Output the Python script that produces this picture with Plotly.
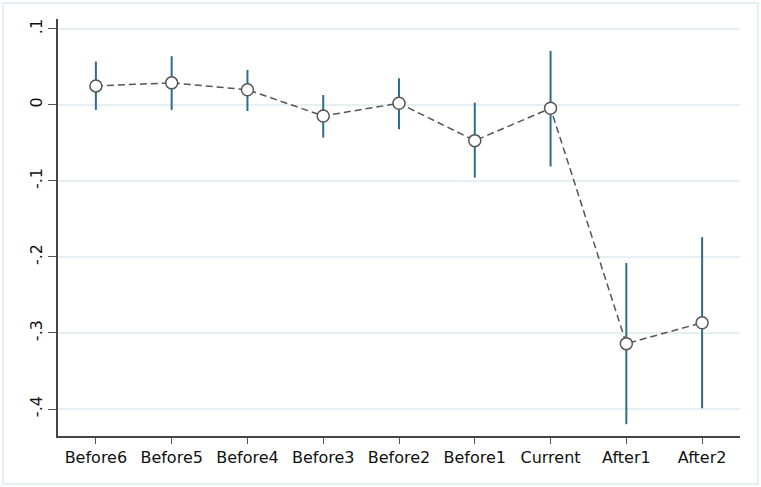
import plotly.graph_objects as go

categories = ["Before6", "Before5", "Before4", "Before3", "Before2", "Before1", "Current", "After1", "After2"]
estimate = [0.025, 0.029, 0.020, -0.0145, 0.0022, -0.047, -0.0044, -0.314, -0.2865]
ci_upper = [0.057, 0.064, 0.046, 0.013, 0.035, 0.003, 0.071, -0.208, -0.174]
ci_lower = [-0.0066, -0.0066, -0.008, -0.043, -0.032, -0.0956, -0.081, -0.420, -0.399]
ytick_vals = [0.1, 0, -0.1, -0.2, -0.3, -0.4]
ytick_text = [".1", "0", "-.1", "-.2", "-.3", "-.4"]

xpos = list(range(len(categories)))
err_plus = [u - e for u, e in zip(ci_upper, estimate)]
err_minus = [e - l for e, l in zip(estimate, ci_lower)]

CI_COLOR = "#2b6f8c"
FONT = "DejaVu Sans, Liberation Sans, Arial, sans-serif"

fig = go.Figure()

# zero reference line
fig.add_hline(y=0, line=dict(color="#6e9fb2", width=1.5), layer="below")

# confidence intervals
fig.add_trace(go.Scatter(
    x=xpos, y=estimate, mode="markers",
    marker=dict(size=0.1, color="rgba(0,0,0,0)"),
    error_y=dict(type="data", symmetric=False, array=err_plus, arrayminus=err_minus,
                 width=0, thickness=2, color=CI_COLOR),
    showlegend=False, hoverinfo="skip",
))

# point estimates connected by dashed line
fig.add_trace(go.Scatter(
    x=xpos, y=estimate, mode="lines+markers",
    line=dict(color="#555555", width=1.5, dash="7px,4px"),
    marker=dict(size=12, color="white", line=dict(color="#555555", width=1.5)),
    showlegend=False,
))

fig.update_layout(
    width=761, height=487,
    margin=dict(l=58, r=21, t=19, b=51),
    paper_bgcolor="white", plot_bgcolor="white",
    font=dict(family=FONT, size=16, color="#111111"),
    xaxis=dict(
        range=[-0.5, 8.5], tickmode="array", tickvals=xpos, ticktext=categories,
        showgrid=False, zeroline=False, showline=True, linecolor="#444444", linewidth=1.5,
        ticks="outside", ticklen=6, tickcolor="#555555", tickwidth=1,
    ),
    yaxis=dict(
        range=[-0.4355, 0.113], tickmode="array", tickvals=ytick_vals, ticktext=ytick_text,
        tickangle=-90, showgrid=True, gridcolor="#e6eff2", gridwidth=1.5, zeroline=False,
        showline=True, linecolor="#444444", linewidth=1.5,
        ticks="outside", ticklen=8, tickcolor="#555555", tickwidth=1,
    ),
    shapes=[dict(type="rect", xref="paper", yref="paper",
                 x0=-0.0806, x1=1.0264, y0=-0.1151, y1=1.0384,
                 line=dict(color="#dceaf0", width=1.5), fillcolor="rgba(0,0,0,0)", layer="below")],
)

fig.write_html("out.html", config={"displayModeBar": False},
               post_script="document.body.style.margin='0';")
